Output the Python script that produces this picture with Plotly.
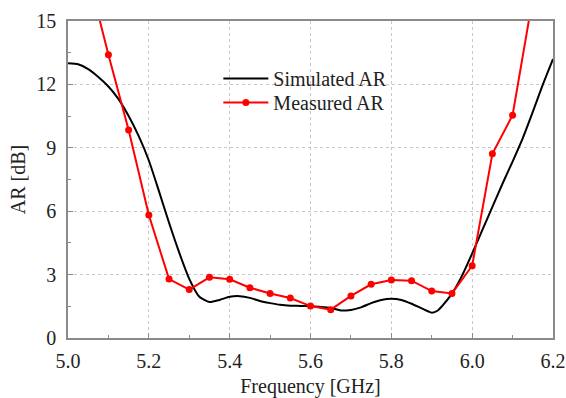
import plotly.graph_objects as go

# Simulated AR (black curve)
sim_freq = [5.00, 5.025, 5.05, 5.075, 5.10, 5.125, 5.15, 5.175, 5.20, 5.225, 5.25, 5.275,
            5.30, 5.325, 5.35, 5.375, 5.40, 5.425, 5.45, 5.475, 5.50, 5.525, 5.55, 5.575,
            5.60, 5.625, 5.65, 5.675, 5.70, 5.725, 5.75, 5.775, 5.80, 5.825, 5.85, 5.875,
            5.90, 5.915, 5.925, 5.95, 5.975, 6.00, 6.025, 6.05, 6.075, 6.10, 6.125, 6.15,
            6.175, 6.20]
sim_ar = [13.0, 12.95, 12.72, 12.35, 11.9, 11.3, 10.5, 9.55, 8.4, 6.95, 5.45, 4.05,
          2.8, 1.95, 1.7, 1.8, 1.95, 1.98, 1.9, 1.75, 1.65, 1.57, 1.53, 1.52,
          1.5, 1.47, 1.42, 1.3, 1.33, 1.45, 1.65, 1.8, 1.86, 1.8, 1.62, 1.4,
          1.2, 1.3, 1.5, 2.1, 2.95, 4.0, 5.1, 6.2, 7.3, 8.35, 9.45, 10.7,
          12.0, 13.2]

# Measured AR (red markers)
meas_freq = [5.05, 5.10, 5.15, 5.20, 5.25, 5.30, 5.35, 5.40, 5.45, 5.50, 5.55, 5.60,
             5.65, 5.70, 5.75, 5.80, 5.85, 5.90, 5.95, 6.00, 6.05, 6.10, 6.15]
meas_ar = [17.2, 13.4, 9.84, 5.82, 2.79, 2.29, 2.87, 2.78, 2.38, 2.11, 1.89, 1.51,
           1.34, 1.99, 2.54, 2.74, 2.71, 2.22, 2.11, 3.42, 8.72, 10.54, 16.1]

x_ticks = [5.0, 5.2, 5.4, 5.6, 5.8, 6.0, 6.2]
y_ticks = [0, 3, 6, 9, 12, 15]

FONT = "Liberation Serif"
TXT = "#222"

fig = go.Figure()
fig.add_trace(go.Scatter(
    x=sim_freq, y=sim_ar, mode="lines", name="Simulated AR",
    line=dict(color="black", width=2, shape="spline", smoothing=0.6),
    legend="legend",
))
fig.add_trace(go.Scatter(
    x=meas_freq, y=meas_ar, mode="lines+markers", name="Measured AR",
    line=dict(color="#ff0000", width=2),
    marker=dict(color="#ff0000", size=7),
    legend="legend2",
))

axis_common = dict(
    showline=True, linecolor="#8a8a8a", linewidth=1.5, mirror=True,
    ticks="inside", ticklen=5, tickcolor="#8a8a8a", tickwidth=1,
    showgrid=True, gridcolor="#c8c8c8", griddash="dot", gridwidth=1,
    zeroline=False, automargin=False,
    tickfont=dict(family=FONT, size=20, color=TXT),
)

fig.update_xaxes(
    range=[5.0, 6.2], tickvals=x_ticks, ticktext=[f"{v:.1f}" for v in x_ticks],
    minor=dict(dtick=0.1, ticks="inside", ticklen=3, tickcolor="#8a8a8a", showgrid=False),
    title=dict(text="Frequency [GHz]", font=dict(family=FONT, size=20, color=TXT), standoff=15),
    ticklabelstandoff=4,
    **axis_common,
)
fig.update_yaxes(
    range=[0, 15], tickvals=y_ticks, ticktext=[str(v) for v in y_ticks],
    minor=dict(dtick=1.5, ticks="inside", ticklen=3, tickcolor="#8a8a8a", showgrid=False),
    title=dict(text="AR [dB]", font=dict(family=FONT, size=20, color=TXT), standoff=5),
    ticklabelstandoff=6,
    **axis_common,
)

leg_common = dict(
    xanchor="left", yanchor="top", bgcolor="rgba(0,0,0,0)", borderwidth=0,
    font=dict(family=FONT, size=20, color=TXT), itemwidth=45,
)

fig.update_layout(
    width=566, height=398,
    margin=dict(l=68, r=13, t=21, b=60),
    paper_bgcolor="white", plot_bgcolor="white",
    showlegend=True,
    legend=dict(x=0.31, y=0.880, **leg_common),
    legend2=dict(x=0.31, y=0.8044, **leg_common),
    shapes=[dict(
        type="rect", xref="paper", yref="paper", layer="between",
        x0=0.31, x1=0.69, y0=0.705, y1=0.885,
        fillcolor="white", line=dict(width=0),
    )],
)

fig.write_html("out.html")
